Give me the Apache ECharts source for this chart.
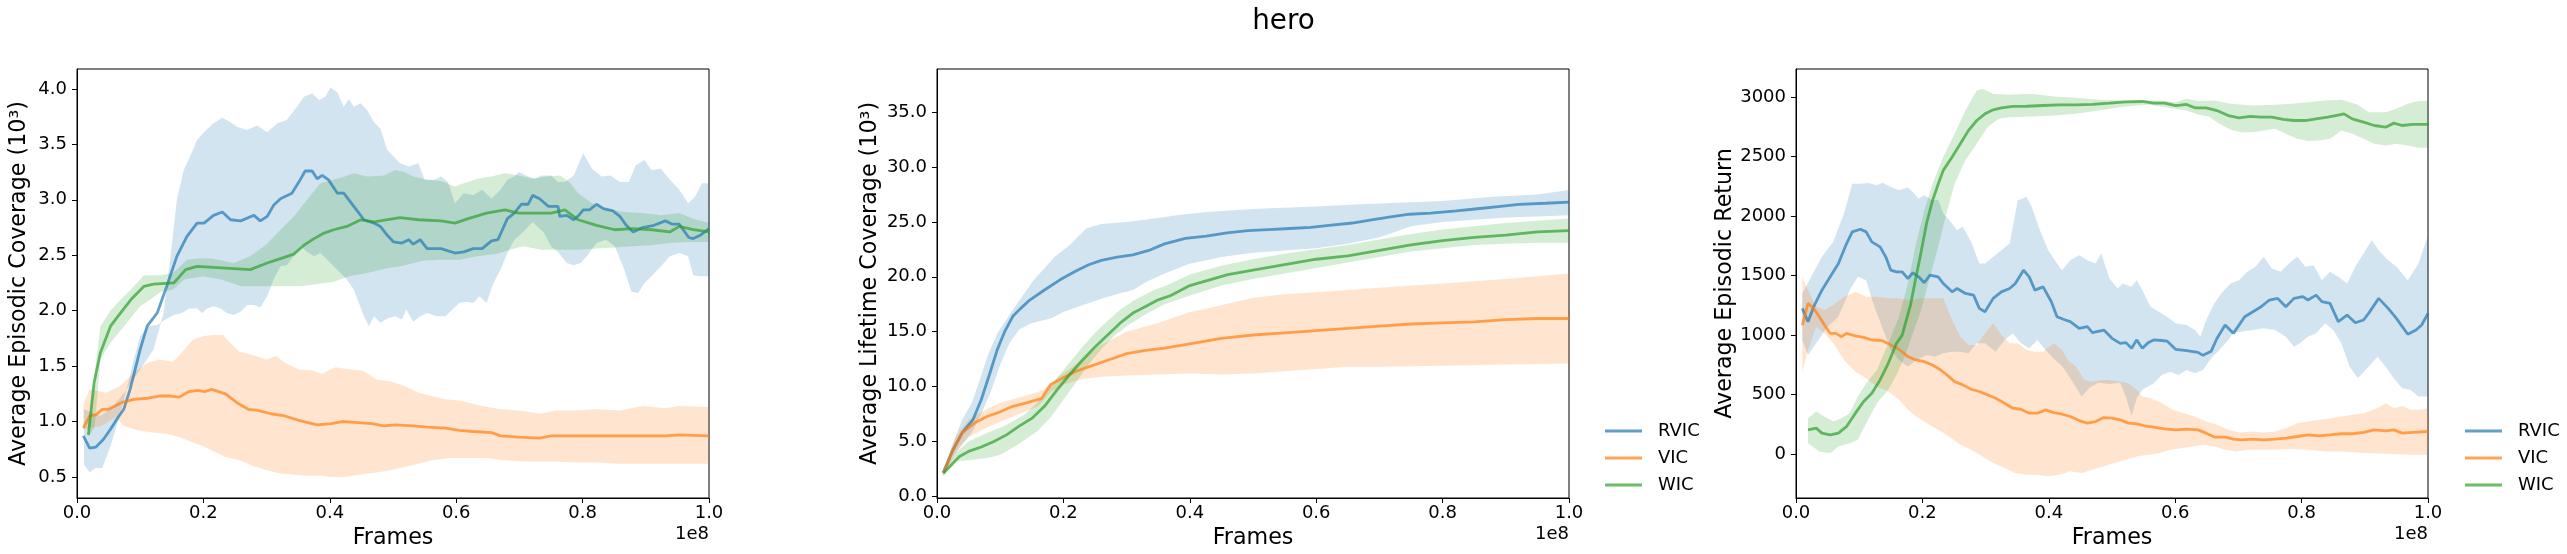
<!DOCTYPE html>
<html><head><meta charset="utf-8">
<script src="https://cdn.jsdelivr.net/npm/echarts@6/dist/echarts.min.js"></script>
<style>html,body{margin:0;padding:0;background:#fff}#c{width:2567px;height:554px}</style>
</head><body><div id="c"></div>
<script>
// ---------- tick labels ----------
const xTicks = [0, 0.2, 0.4, 0.6, 0.8, 1.0];
const epTicks = [0.5, 1.0, 1.5, 2.0, 2.5, 3.0, 3.5, 4.0];
const ltTicks = [0, 5, 10, 15, 20, 25, 30, 35];
const retTicks = [0, 500, 1000, 1500, 2000, 2500, 3000];
const methods = ['RVIC', 'VIC', 'WIC'];

// ---------- Panel 1: Average Episodic Coverage (10^3); x in units of 1e8 frames ----------
const epRvicMean = [[.010,.87],[.020,.76],[.030,.77],[.042,.84],[.053,.93],[.063,1.02],[.074,1.11],[.084,1.29],[.092,1.47],[.100,1.65],[.111,1.86],[.127,1.98],[.142,2.22],[.158,2.49],[.174,2.67],[.190,2.79],[.201,2.79],[.216,2.86],[.230,2.89],[.243,2.82],[.259,2.81],[.280,2.86],[.290,2.81],[.301,2.85],[.311,2.95],[.322,3.01],[.340,3.06],[.351,3.16],[.361,3.26],[.372,3.26],[.380,3.19],[.388,3.22],[.398,3.18],[.412,3.06],[.422,3.06],[.438,2.94],[.454,2.82],[.470,2.79],[.480,2.76],[.491,2.68],[.501,2.62],[.514,2.61],[.525,2.64],[.532,2.60],[.543,2.64],[.554,2.56],[.576,2.56],[.598,2.52],[.612,2.53],[.627,2.56],[.641,2.56],[.656,2.63],[.666,2.64],[.681,2.83],[.692,2.88],[.703,2.96],[.714,2.96],[.721,3.04],[.732,3.01],[.746,2.94],[.761,2.94],[.764,2.85],[.775,2.86],[.786,2.82],[.794,2.86],[.801,2.91],[.811,2.91],[.822,2.96],[.833,2.92],[.848,2.90],[.859,2.85],[.869,2.77],[.880,2.71],[.895,2.75],[.913,2.77],[.931,2.81],[.942,2.78],[.953,2.78],[.968,2.66],[.975,2.65],[.986,2.68],[1.0,2.74]];
const epRvicHi = [[.011,1.11],[.037,1.05],[.058,1.14],[.079,1.29],[.100,1.47],[.121,1.65],[.137,1.98],[.148,2.49],[.158,3.00],[.169,3.27],[.179,3.39],[.190,3.54],[.201,3.61],[.216,3.69],[.230,3.74],[.243,3.70],[.253,3.66],[.269,3.63],[.285,3.67],[.301,3.61],[.317,3.69],[.332,3.72],[.348,3.84],[.359,3.93],[.372,3.96],[.383,3.90],[.393,3.93],[.401,4.01],[.412,3.97],[.422,3.84],[.430,3.91],[.438,3.84],[.449,3.87],[.459,3.81],[.470,3.70],[.480,3.64],[.491,3.45],[.501,3.39],[.511,3.33],[.525,3.30],[.540,3.33],[.550,3.18],[.565,3.18],[.576,3.21],[.587,3.16],[.598,2.97],[.612,3.06],[.627,3.04],[.641,3.09],[.656,3.01],[.670,3.09],[.681,3.18],[.692,3.21],[.699,3.25],[.714,3.21],[.724,3.19],[.735,3.22],[.750,3.22],[.761,3.16],[.772,3.16],[.786,3.22],[.801,3.42],[.815,3.28],[.830,3.21],[.844,3.22],[.859,3.16],[.873,3.16],[.884,3.31],[.898,3.36],[.909,3.27],[.924,3.28],[.938,3.18],[.953,3.09],[.967,2.97],[.978,3.03],[.989,3.15],[1.0,3.15]];
const epRvicLo = [[.011,.61],[.020,.54],[.029,.58],[.040,.58],[.053,.78],[.066,1.02],[.077,1.26],[.090,1.56],[.100,1.77],[.113,1.86],[.127,1.87],[.140,1.92],[.153,1.96],[.166,1.98],[.177,2.02],[.190,2.02],[.198,1.98],[.206,2.02],[.216,2.04],[.227,2.02],[.237,1.98],[.248,1.96],[.259,1.99],[.269,2.05],[.280,2.05],[.290,2.03],[.301,2.13],[.311,2.28],[.322,2.40],[.332,2.41],[.343,2.49],[.354,2.58],[.364,2.53],[.375,2.49],[.385,2.52],[.396,2.46],[.406,2.40],[.417,2.34],[.427,2.28],[.438,2.19],[.446,2.07],[.454,1.95],[.462,1.86],[.470,1.95],[.480,1.89],[.491,1.93],[.503,1.95],[.514,1.92],[.521,2.01],[.532,1.90],[.543,1.95],[.554,1.98],[.569,1.95],[.583,1.95],[.594,2.01],[.605,2.07],[.616,2.08],[.627,2.07],[.637,2.13],[.648,2.07],[.659,2.25],[.670,2.37],[.681,2.52],[.692,2.64],[.706,2.71],[.721,2.80],[.739,2.70],[.750,2.58],[.761,2.53],[.775,2.43],[.786,2.41],[.797,2.43],[.808,2.50],[.822,2.61],[.837,2.64],[.851,2.58],[.866,2.37],[.877,2.17],[.888,2.16],[.898,2.25],[.909,2.31],[.924,2.40],[.938,2.49],[.953,2.52],[.967,2.49],[.975,2.32],[.986,2.31],[1.0,2.31]];
const epVicMean = [[.010,.94],[.020,1.05],[.030,1.06],[.040,1.11],[.050,1.11],[.060,1.14],[.070,1.17],[.090,1.20],[.112,1.21],[.130,1.23],[.148,1.23],[.162,1.22],[.177,1.27],[.191,1.28],[.202,1.27],[.213,1.29],[.235,1.25],[.253,1.17],[.271,1.11],[.286,1.10],[.307,1.07],[.329,1.05],[.351,1.01],[.380,.97],[.402,.98],[.420,1.00],[.445,.99],[.467,.98],[.485,.96],[.503,.97],[.532,.96],[.554,.95],[.583,.94],[.605,.92],[.627,.91],[.656,.90],[.670,.87],[.699,.86],[.732,.85],[.750,.87],[.786,.87],[.822,.87],[.859,.87],[.895,.87],[.931,.87],[.953,.88],[1.0,.87]];
const epVicHi = [[.010,1.15],[.020,1.29],[.046,1.26],[.068,1.32],[.090,1.44],[.112,1.53],[.130,1.56],[.152,1.54],[.170,1.65],[.184,1.74],[.199,1.77],[.213,1.78],[.231,1.78],[.242,1.71],[.257,1.63],[.278,1.60],[.300,1.56],[.315,1.59],[.329,1.53],[.351,1.47],[.373,1.46],[.387,1.43],[.409,1.49],[.431,1.47],[.452,1.46],[.474,1.38],[.496,1.36],[.518,1.32],[.540,1.26],[.561,1.23],[.583,1.20],[.605,1.19],[.641,1.14],[.670,1.11],[.699,1.10],[.735,1.07],[.757,1.10],[.786,1.10],[.822,1.11],[.859,1.10],[.895,1.14],[.931,1.12],[.953,1.14],[1.0,1.13]];
const epVicLo = [[.010,.93],[.039,.96],[.061,1.04],[.075,.96],[.097,.92],[.119,.90],[.141,.89],[.162,.86],[.184,.81],[.199,.78],[.220,.72],[.235,.68],[.257,.65],[.278,.60],[.300,.56],[.322,.53],[.344,.52],[.365,.51],[.387,.51],[.402,.50],[.424,.50],[.445,.52],[.474,.54],[.496,.56],[.518,.59],[.540,.62],[.561,.65],[.590,.67],[.619,.67],[.648,.67],[.677,.65],[.706,.64],[.750,.64],[.793,.63],[.822,.63],[.859,.62],[.895,.62],[.931,.62],[.967,.62],[1.0,.62]];
const epWicMean = [[.018,.88],[.027,1.35],[.037,1.62],[.053,1.86],[.069,1.98],[.087,2.11],[.106,2.22],[.121,2.24],[.153,2.25],[.172,2.37],[.190,2.40],[.216,2.39],[.248,2.38],[.274,2.37],[.301,2.43],[.322,2.47],[.343,2.51],[.359,2.59],[.375,2.65],[.391,2.70],[.406,2.73],[.427,2.76],[.449,2.82],[.470,2.80],[.511,2.84],[.540,2.82],[.576,2.81],[.598,2.79],[.619,2.83],[.648,2.88],[.677,2.91],[.699,2.88],[.728,2.88],[.750,2.88],[.772,2.91],[.793,2.82],[.822,2.77],[.851,2.73],[.880,2.74],[.909,2.73],[.938,2.71],[.953,2.76],[.975,2.73],[1.0,2.71]];
const epWicHi = [[.018,.96],[.037,1.86],[.053,2.00],[.069,2.10],[.087,2.20],[.106,2.32],[.121,2.32],[.133,2.32],[.152,2.34],[.174,2.46],[.191,2.47],[.213,2.47],[.248,2.43],[.274,2.49],[.300,2.60],[.317,2.70],[.343,2.85],[.364,3.00],[.385,3.15],[.406,3.18],[.424,3.21],[.438,3.24],[.459,3.21],[.486,3.22],[.503,3.27],[.518,3.25],[.532,3.21],[.554,3.18],[.576,3.17],[.598,3.12],[.612,3.15],[.634,3.19],[.656,3.21],[.677,3.24],[.699,3.22],[.721,3.19],[.743,3.21],[.764,3.22],[.779,3.16],[.793,3.06],[.815,2.97],[.837,2.92],[.866,2.89],[.895,2.88],[.924,2.86],[.953,2.88],[.975,2.83],[1.0,2.79]];
const epWicLo = [[.018,.86],[.028,.95],[.037,1.56],[.053,1.71],[.079,1.89],[.100,2.04],[.116,2.10],[.133,2.17],[.152,2.19],[.170,2.28],[.199,2.31],[.228,2.28],[.259,2.22],[.301,2.22],[.354,2.22],[.406,2.26],[.431,2.31],[.459,2.34],[.489,2.38],[.512,2.40],[.547,2.45],[.576,2.46],[.605,2.46],[.634,2.49],[.663,2.51],[.685,2.55],[.706,2.58],[.735,2.55],[.764,2.55],[.793,2.55],[.822,2.56],[.851,2.57],[.880,2.58],[.909,2.59],[.938,2.61],[.967,2.62],[1.0,2.62]];

// ---------- Panel 2: Average Lifetime Coverage (10^3) ----------
const ltRvicMean = [[.01,2.2],[.025,4.2],[.04,5.8],[.057,7.0],[.07,8.8],[.083,11.1],[.095,13.3],[.107,15.0],[.12,16.4],[.132,17.1],[.145,17.8],[.17,18.8],[.194,19.7],[.219,20.5],[.24,21.1],[.26,21.5],[.285,21.8],[.31,22.0],[.335,22.4],[.36,23.0],[.393,23.5],[.426,23.7],[.459,24.0],[.492,24.2],[.525,24.3],[.558,24.4],[.591,24.5],[.624,24.7],[.657,24.9],[.69,25.2],[.723,25.5],[.748,25.7],[.781,25.8],[.822,26.0],[.855,26.2],[.888,26.4],[.921,26.6],[.963,26.7],[1.0,26.8]];
const ltRvicHi = [[.01,2.4],[.025,4.8],[.04,7.0],[.055,8.5],[.066,10.3],[.08,12.8],[.095,14.8],[.12,17.0],[.153,19.7],[.186,21.8],[.21,22.9],[.236,24.4],[.26,24.8],[.3,25.0],[.343,25.3],[.38,25.6],[.426,25.9],[.508,26.2],[.6,26.4],[.67,26.6],[.75,26.8],[.8,26.9],[.88,27.3],[.95,27.5],[1.0,27.9]];
const ltRvicLo = [[.01,1.8],[.025,3.6],[.04,4.8],[.055,5.8],[.07,7.5],[.085,9.5],[.1,12.0],[.115,14.0],[.13,15.2],[.15,15.8],[.18,16.2],[.2,16.8],[.23,17.4],[.26,18.0],[.29,18.5],[.31,18.8],[.33,19.5],[.36,20.3],[.4,21.2],[.45,21.8],[.5,22.2],[.55,22.4],[.6,22.6],[.65,23.0],[.7,23.6],[.72,24.0],[.75,24.6],[.8,25.0],[.85,25.2],[.9,25.4],[.95,25.5],[1.0,25.6]];
const ltVicMean = [[.01,2.1],[.025,4.2],[.04,5.8],[.06,6.7],[.08,7.3],[.1,7.7],[.12,8.2],[.14,8.5],[.165,8.9],[.18,10.2],[.2,10.8],[.22,11.4],[.24,11.8],[.27,12.4],[.3,13.0],[.33,13.3],[.36,13.5],[.4,13.9],[.45,14.4],[.5,14.7],[.55,14.9],[.6,15.1],[.65,15.3],[.7,15.5],[.75,15.7],[.8,15.8],[.85,15.9],[.9,16.1],[.95,16.2],[1.0,16.2]];
const ltVicHi = [[.01,2.3],[.03,5.5],[.05,7.0],[.08,8.0],[.1,8.5],[.13,9.0],[.16,9.5],[.17,9.8],[.19,10.8],[.22,12.0],[.26,13.8],[.3,15.0],[.35,15.8],[.4,16.8],[.426,17.1],[.5,18.1],[.55,18.4],[.6,18.6],[.7,19.0],[.8,19.4],[.9,19.8],[1.0,20.3]];
const ltVicLo = [[.01,1.9],[.03,4.0],[.05,5.4],[.08,6.3],[.1,6.8],[.13,7.5],[.16,8.2],[.18,9.5],[.2,10.2],[.23,10.7],[.26,10.9],[.3,11.0],[.35,11.1],[.4,11.2],[.45,11.1],[.5,11.2],[.55,11.4],[.6,11.6],[.65,11.8],[.7,11.8],[.8,11.9],[.9,12.0],[1.0,12.1]];
const ltWicMean = [[.01,2.1],[.02,2.7],[.035,3.6],[.05,4.1],[.07,4.5],[.09,5.0],[.11,5.6],[.13,6.4],[.15,7.1],[.17,8.2],[.19,9.7],[.21,11.1],[.23,12.4],[.25,13.6],[.27,14.7],[.29,15.8],[.31,16.7],[.33,17.3],[.35,17.9],[.37,18.3],[.4,19.2],[.43,19.7],[.46,20.2],[.5,20.6],[.55,21.1],[.6,21.6],[.65,21.9],[.7,22.4],[.75,22.9],[.8,23.3],[.85,23.6],[.9,23.8],[.95,24.1],[1.0,24.2]];
const ltWicHi = [[.01,2.3],[.03,4.0],[.05,5.0],[.08,5.8],[.11,6.5],[.14,7.5],[.17,9.2],[.19,10.8],[.21,12.2],[.23,13.6],[.25,14.9],[.27,16.0],[.29,17.0],[.31,17.8],[.34,18.7],[.37,19.4],[.4,20.2],[.45,21.0],[.5,21.6],[.55,22.1],[.6,22.5],[.65,22.9],[.7,23.4],[.75,23.9],[.8,24.3],[.85,24.6],[.9,24.9],[.95,25.1],[1.0,25.3]];
const ltWicLo = [[.01,1.9],[.03,3.2],[.05,3.3],[.08,3.5],[.1,3.8],[.13,4.8],[.16,6.0],[.18,7.2],[.2,8.8],[.22,10.4],[.24,12.0],[.26,13.4],[.28,14.6],[.3,15.5],[.33,16.6],[.36,17.5],[.4,18.3],[.45,19.2],[.5,19.8],[.55,20.3],[.6,20.8],[.65,21.3],[.7,21.8],[.75,22.3],[.8,22.6],[.85,22.9],[.9,23.0],[.95,23.1],[1.0,23.1]];

// ---------- Panel 3: Average Episodic Return ----------
const retRvicMean = [[.010,1225],[.019,1113],[.028,1239],[.041,1378],[.059,1532],[.067,1600],[.080,1770],[.089,1868],[.102,1890],[.111,1868],[.120,1784],[.133,1742],[.142,1658],[.150,1546],[.159,1532],[.168,1532],[.177,1476],[.185,1524],[.194,1490],[.203,1440],[.212,1504],[.225,1490],[.233,1434],[.247,1364],[.255,1392],[.268,1350],[.281,1336],[.290,1225],[.299,1197],[.312,1309],[.325,1364],[.338,1392],[.347,1434],[.360,1546],[.369,1490],[.378,1378],[.391,1406],[.404,1281],[.413,1155],[.426,1127],[.434,1113],[.448,1057],[.461,1071],[.469,1021],[.487,1043],[.500,973],[.513,931],[.522,937],[.531,889],[.539,960],[.548,890],[.557,935],[.566,960],[.579,955],[.587,950],[.601,880],[.618,870],[.636,855],[.644,830],[.657,865],[.666,972],[.679,1085],[.692,1015],[.710,1155],[.723,1197],[.736,1239],[.749,1295],[.762,1309],[.775,1239],[.788,1309],[.802,1323],[.810,1295],[.823,1336],[.832,1281],[.845,1267],[.858,1113],[.872,1169],[.885,1104],[.898,1127],[.906,1183],[.922,1309],[.937,1225],[.950,1141],[.968,1007],[.981,1043],[.990,1085],[1.0,1183]];
const retRvicHi = [[.010,1350],[.024,1490],[.041,1658],[.059,1784],[.076,2022],[.089,2273],[.102,2273],[.115,2279],[.128,2259],[.137,2281],[.150,2245],[.163,2217],[.177,2240],[.185,2203],[.194,2147],[.203,2175],[.216,2133],[.225,2139],[.233,2022],[.247,1938],[.255,1882],[.264,1910],[.277,1784],[.290,1602],[.299,1602],[.312,1658],[.325,1714],[.338,1770],[.351,2133],[.365,2161],[.373,2077],[.386,1882],[.399,1714],[.413,1602],[.421,1546],[.434,1630],[.448,1672],[.461,1630],[.474,1602],[.483,1686],[.496,1476],[.509,1392],[.517,1434],[.531,1406],[.539,1462],[.548,1378],[.561,1239],[.574,1197],[.587,1155],[.601,1099],[.618,1085],[.631,1043],[.640,987],[.649,1127],[.662,1267],[.675,1364],[.688,1434],[.701,1462],[.714,1532],[.727,1574],[.740,1658],[.753,1560],[.767,1532],[.780,1602],[.793,1658],[.806,1574],[.819,1588],[.832,1462],[.845,1532],[.858,1490],[.872,1434],[.885,1574],[.898,1686],[.911,1798],[.924,1700],[.937,1630],[.950,1574],[.968,1462],[.985,1602],[1.0,1840]];
const retRvicLo = [[.010,959],[.019,833],[.032,931],[.050,1071],[.067,1155],[.085,1378],[.098,1490],[.111,1462],[.124,1239],[.137,1057],[.150,875],[.163,791],[.177,735],[.190,791],[.207,833],[.220,819],[.233,847],[.247,861],[.260,861],[.273,847],[.286,931],[.299,931],[.316,861],[.330,959],[.343,1015],[.356,931],[.369,889],[.382,959],[.395,875],[.408,800],[.421,740],[.434,640],[.452,484],[.465,560],[.478,600],[.496,590],[.513,600],[.522,480],[.531,320],[.539,470],[.548,540],[.566,596],[.579,665],[.592,693],[.605,665],[.618,707],[.631,679],[.644,707],[.657,805],[.670,875],[.684,959],[.692,1021],[.705,1029],[.723,1043],[.740,1057],[.758,1043],[.775,987],[.788,903],[.797,931],[.810,987],[.823,1015],[.837,1099],[.850,1043],[.863,931],[.876,735],[.889,637],[.906,735],[.920,819],[.933,735],[.946,637],[.959,554],[.972,540],[.985,484],[1.0,484]];
const retVicMean = [[.010,1085],[.019,1267],[.028,1225],[.037,1155],[.045,1085],[.054,1015],[.063,1015],[.072,987],[.080,1015],[.094,993],[.107,981],[.120,959],[.137,953],[.150,917],[.163,881],[.177,819],[.190,791],[.203,777],[.216,749],[.229,707],[.242,651],[.251,609],[.264,582],[.277,545],[.290,526],[.303,498],[.316,470],[.330,428],[.343,386],[.356,377],[.369,344],[.382,344],[.395,372],[.408,349],[.421,335],[.434,316],[.448,282],[.461,260],[.474,274],[.487,307],[.500,302],[.513,288],[.526,260],[.539,254],[.552,238],[.566,226],[.583,212],[.601,204],[.618,210],[.636,204],[.649,176],[.662,143],[.679,143],[.692,126],[.705,120],[.723,126],[.740,120],[.758,126],[.775,134],[.793,148],[.810,162],[.828,154],[.845,162],[.863,171],[.880,171],[.898,182],[.915,204],[.933,196],[.946,204],[.959,176],[.976,182],[1.0,190]];
const retVicHi = [[.010,1490],[.019,1378],[.032,1239],[.045,1211],[.059,1253],[.076,1322],[.094,1364],[.111,1322],[.128,1322],[.146,1309],[.163,1309],[.181,1294],[.198,1309],[.216,1309],[.233,1309],[.247,1127],[.260,987],[.273,917],[.286,917],[.299,1015],[.312,1099],[.325,1001],[.338,931],[.351,931],[.365,875],[.378,861],[.391,861],[.408,931],[.421,875],[.430,791],[.443,735],[.456,623],[.469,609],[.483,623],[.496,623],[.513,609],[.526,596],[.539,540],[.548,484],[.561,470],[.579,428],[.596,372],[.614,344],[.631,316],[.649,274],[.666,246],[.684,204],[.701,182],[.723,190],[.740,182],[.758,190],[.775,218],[.793,260],[.810,274],[.828,288],[.845,302],[.863,316],[.880,330],[.898,344],[.920,386],[.933,428],[.946,386],[.959,405],[.972,372],[.985,372],[1.0,386]];
const retVicLo = [[.010,693],[.019,875],[.032,1071],[.045,1015],[.059,931],[.076,791],[.094,693],[.111,637],[.128,568],[.146,526],[.163,456],[.177,372],[.190,316],[.207,260],[.225,204],[.242,148],[.260,78],[.277,36],[.295,-20],[.312,-75],[.330,-117],[.347,-159],[.365,-173],[.382,-173],[.399,-187],[.417,-173],[.434,-145],[.452,-159],[.469,-131],[.487,-103],[.504,-75],[.522,-48],[.539,-20],[.557,-6],[.574,8],[.592,36],[.609,50],[.627,64],[.644,78],[.662,64],[.679,36],[.697,22],[.714,36],[.732,36],[.758,36],[.784,42],[.810,36],[.837,22],[.863,22],[.889,14],[.915,8],[.941,0],[.968,-6],[1.0,-6]];
const retWicMean = [[.019,204],[.032,218],[.041,176],[.054,162],[.067,176],[.080,232],[.094,344],[.107,442],[.120,512],[.133,623],[.146,763],[.159,931],[.168,1000],[.181,1250],[.190,1490],[.198,1700],[.207,1950],[.216,2130],[.225,2270],[.233,2385],[.247,2497],[.260,2609],[.273,2721],[.286,2804],[.299,2860],[.312,2894],[.325,2911],[.343,2922],[.365,2924],[.391,2930],[.417,2936],[.443,2936],[.469,2939],[.496,2950],[.522,2961],[.548,2964],[.566,2950],[.583,2950],[.601,2930],[.618,2939],[.631,2911],[.649,2911],[.666,2888],[.684,2846],[.701,2827],[.719,2838],[.736,2832],[.753,2832],[.771,2813],[.788,2804],[.806,2804],[.823,2818],[.841,2832],[.854,2846],[.867,2860],[.880,2818],[.898,2790],[.915,2762],[.933,2748],[.946,2782],[.959,2762],[.976,2771],[1.0,2771]];
const retWicHi = [[.019,302],[.032,358],[.045,316],[.059,274],[.072,302],[.085,344],[.098,484],[.111,596],[.128,707],[.146,931],[.163,1155],[.177,1434],[.190,1770],[.203,2050],[.216,2273],[.233,2497],[.251,2693],[.268,2888],[.286,3056],[.295,3070],[.312,3028],[.338,3020],[.373,3028],[.408,3006],[.443,2995],[.478,2978],[.513,2972],[.548,2972],[.574,2972],[.601,2958],[.618,2986],[.636,2967],[.662,2972],[.688,2944],[.723,2930],[.758,2936],[.784,2944],[.810,2958],[.837,2972],[.863,2978],[.889,2936],[.906,2874],[.933,2874],[.950,2902],[.968,2944],[.985,2967],[1.0,2967]];
const retWicLo = [[.019,92],[.037,22],[.054,8],[.067,64],[.085,92],[.098,120],[.111,260],[.128,428],[.146,540],[.159,665],[.172,819],[.185,1015],[.198,1211],[.212,1490],[.225,1742],[.238,2022],[.251,2273],[.268,2469],[.286,2609],[.303,2748],[.321,2818],[.338,2832],[.373,2838],[.408,2846],[.443,2860],[.478,2888],[.513,2916],[.539,2930],[.557,2939],[.583,2916],[.601,2902],[.618,2888],[.636,2855],[.653,2838],[.670,2776],[.688,2726],[.705,2706],[.723,2706],[.740,2720],[.758,2734],[.775,2693],[.793,2651],[.810,2631],[.828,2637],[.845,2651],[.863,2720],[.880,2693],[.898,2651],[.915,2609],[.933,2595],[.950,2609],[.968,2595],[.985,2575],[1.0,2575]];

// ---------- styling ----------
const FONT = 'DejaVu Sans';
const lineColors = ['rgba(31,119,180,0.7)', 'rgba(255,127,14,0.7)', 'rgba(44,160,44,0.7)'];
const bandColors = ['rgba(31,119,180,0.2)', 'rgba(255,127,14,0.2)', 'rgba(44,160,44,0.2)'];

const panels = [
  { left: 77, yName: 'Average Episodic Coverage (10³)', nameGap: 47, min: 0.31, max: 4.18, ticks: epTicks, fmt: v => v.toFixed(1),
    mean: [epRvicMean, epVicMean, epWicMean], hi: [epRvicHi, epVicHi, epWicHi], lo: [epRvicLo, epVicLo, epWicLo] },
  { left: 937, yName: 'Average Lifetime Coverage (10³)', nameGap: 56, min: -0.15, max: 38.93, ticks: ltTicks, fmt: v => v.toFixed(1),
    mean: [ltRvicMean, ltVicMean, ltWicMean], hi: [ltRvicHi, ltVicHi, ltWicHi], lo: [ltRvicLo, ltVicLo, ltWicLo] },
  { left: 1796, yName: 'Average Episodic Return', nameGap: 56, min: -369, max: 3237, ticks: retTicks, fmt: v => String(v),
    mean: [retRvicMean, retVicMean, retWicMean], hi: [retRvicHi, retVicHi, retWicHi], lo: [retRvicLo, retVicLo, retWicLo] }
];
const PW = 632, PT = 69, PH = 429;

const grid = [], xAxis = [], yAxis = [], series = [], graphic = [];
panels.forEach((p, i) => {
  grid.push({ left: p.left, top: PT, width: PW, height: PH, show: true, borderColor: '#000', borderWidth: 1, backgroundColor: 'transparent', containLabel: false });
  xAxis.push({
    type: 'value', gridIndex: i, min: 0, max: 1,
    axisLine: { show: true, onZero: false, lineStyle: { color: '#000', width: 1 } },
    axisTick: { show: true, length: 5, lineStyle: { color: '#000', width: 1 }, customValues: xTicks },
    axisLabel: { customValues: xTicks, formatter: v => v.toFixed(1), fontFamily: FONT, fontSize: 18, color: '#000', margin: 6 },
    splitLine: { show: false },
    name: 'Frames', nameLocation: 'middle', nameGap: 27,
    nameTextStyle: { fontFamily: FONT, fontSize: 22.2, color: '#000' }
  });
  yAxis.push({
    type: 'value', gridIndex: i, min: p.min, max: p.max,
    axisLine: { show: true, onZero: false, lineStyle: { color: '#000', width: 1 } },
    axisTick: { show: true, length: 5, lineStyle: { color: '#000', width: 1 }, customValues: p.ticks },
    axisLabel: { customValues: p.ticks, formatter: p.fmt, fontFamily: FONT, fontSize: 18, color: '#000', margin: 10 },
    splitLine: { show: false },
    name: p.yName, nameLocation: 'middle', nameGap: p.nameGap,
    nameTextStyle: { fontFamily: FONT, fontSize: 22.2, color: '#000' }
  });
  methods.forEach((m, k) => {
    const hi = p.hi[k], lo = p.lo[k];
    series.push({
      type: 'custom', name: m + ' band', xAxisIndex: i, yAxisIndex: i, silent: true, z: 1, clip: true,
      data: hi, encode: { x: 0, y: 1 },
      renderItem: function (params, api) {
        if (params.dataIndex !== 0) return null;
        const pts = hi.map(d => api.coord(d)).concat(lo.slice().reverse().map(d => api.coord(d)));
        return { type: 'polygon', shape: { points: pts }, style: { fill: bandColors[k], stroke: null } };
      }
    });
  });
  methods.forEach((m, k) => {
    series.push({
      type: 'line', name: m, xAxisIndex: i, yAxisIndex: i, data: p.mean[k], z: 3,
      showSymbol: false, symbol: 'none', silent: true,
      lineStyle: { width: 2.8, color: lineColors[k] }, itemStyle: { color: lineColors[k] }
    });
  });
  graphic.push({ type: 'text', right: 2567 - (p.left + PW), top: 525, style: { text: '1e8', font: '18px "DejaVu Sans"', fill: '#000' } });
});

const legendBase = {
  data: methods, orient: 'vertical', top: 417, itemWidth: 37, itemHeight: 3, itemGap: 9, icon: 'rect', selectedMode: false,
  textStyle: { fontFamily: FONT, fontSize: 18, color: '#000', lineHeight: 18, padding: [0, 0, 0, 11] }
};

const chart = echarts.init(document.getElementById('c'), null, { renderer: 'canvas' });
chart.setOption({
  animation: false,
  backgroundColor: '#fff',
  color: lineColors,
  title: { text: 'hero', left: 'center', top: 3, textStyle: { fontFamily: FONT, fontSize: 27.8, fontWeight: 'normal', color: '#000' } },
  legend: [Object.assign({}, legendBase, { left: 1600 }), Object.assign({}, legendBase, { left: 2460 })],
  grid, xAxis, yAxis, series, graphic
});
</script></body></html>
